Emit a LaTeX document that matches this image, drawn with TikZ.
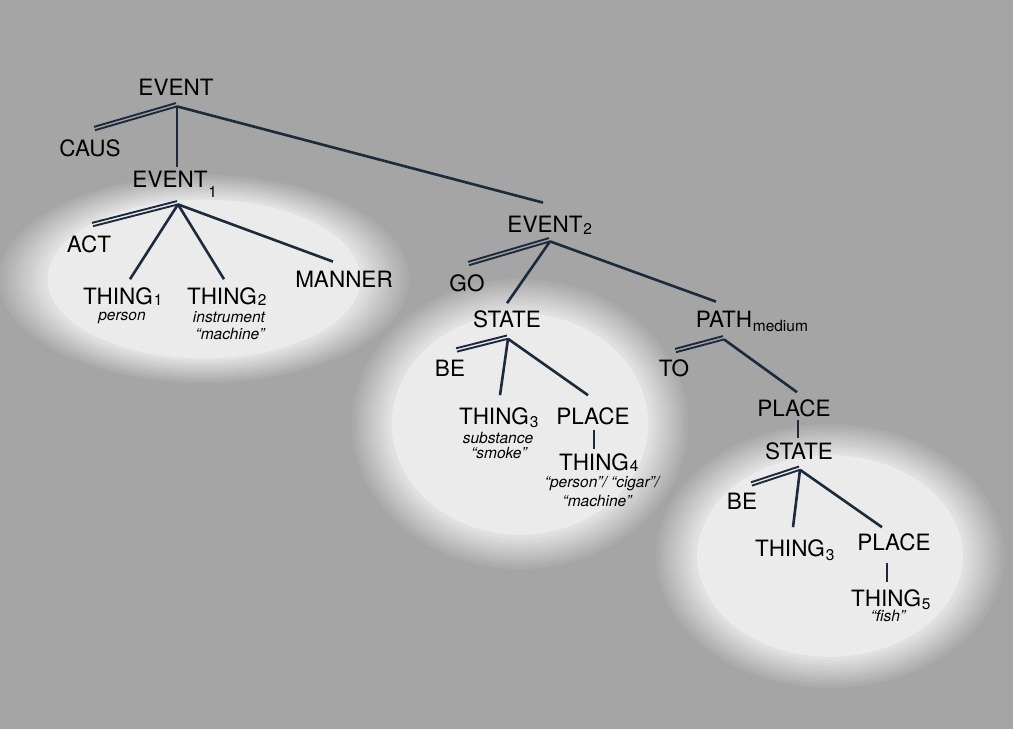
\documentclass[tikz,border=0pt]{standalone}
\usepackage{fontspec}
\setmainfont{TeX Gyre Heros}
\usetikzlibrary{calc}
\definecolor{bg}{RGB}{165,165,165}
\definecolor{glowc}{RGB}{235,235,235}
\definecolor{lnc}{RGB}{28,42,62}
\newcommand\sbs[2][2pt]{\rlap{\smash{\kern0.8pt\raisebox{-#1}{\fontsize{15.5}{16}\selectfont #2}}}}
\tikzset{
  lab/.style={inner sep=0pt, font=\fontsize{22.5}{27}\selectfont, text=black},
  ann/.style={inner sep=0pt, font=\fontsize{15.5}{18}\selectfont\itshape, text=black},
  br/.style={draw=lnc, line width=2.6pt},
  dl/.style={draw=lnc, line width=1.9pt},
  glowlayer/.style={fill=glowc, fill opacity=0.09}
}
\newcommand\dbl[2]{\draw[dl] (#1) -- (#2); \draw[dl, transform canvas={shift={(-1pt,3.3pt)}}] (#1) -- (#2);}
% soft glow: centre x, centre y, x radius, y radius
\newcommand\glowell[4]{%
  \foreach \m in {0,...,46}{%
    \pgfmathsetmacro\s{1-0.24*(1-0.91^\m)}%
    \fill[glowlayer] (#1,#2) ellipse [x radius={\s*#3pt}, y radius={\s*#4pt}];
  }%
  \fill[glowc] (#1,#2) ellipse [x radius={0.764*#3pt}, y radius={0.764*#4pt}];
}
\begin{document}
\begin{tikzpicture}[x=1pt,y=-1pt]
\fill[bg] (0,0) rectangle (1013,729);
\useasboundingbox (0,0) rectangle (1013,729);
% glows
\glowell{204}{279}{205}{104}
\glowell{520}{424}{168}{145}
\glowell{830}{556}{174}{132}
% tree 1
\node[lab] (e0) at (176,87) {EVENT};
\node[lab] (caus) at (90,148) {CAUS};
\node[lab] (ev1) at (170,179) {EVENT\sbs[10.5pt]{1}};
\node[lab] (act) at (89,244) {ACT};
\node[lab] (t1) at (118,296) {THING\sbs[1pt]{1}};
\node[lab] (t2) at (222,296) {THING\sbs[1pt]{2}};
\node[lab] (man) at (344,279) {MANNER};
\node[ann] (pers) at (122,318) {person};
\node[ann] (instr) at (229,317) {instrument};
\node[ann] (mach1) at (230,334) {“machine”};
% tree 2
\node[lab] (ev2) at (545,224) {EVENT\sbs[2.5pt]{2}};
\node[lab] (go) at (467,283) {GO};
\node[lab] (st1) at (507,319) {STATE};
\node[lab] (path) at (724,319) {PATH\sbs[4pt]{medium}};
\node[lab] (be1) at (450,368) {BE};
\node[lab] (th3) at (494,416) {THING\sbs[3pt]{3}};
\node[lab] (pl1) at (593,416) {PLACE};
\node[ann] (subst) at (498,438) {substance};
\node[ann] (smoke) at (499,453) {“smoke”};
\node[lab] (th4) at (594,462) {THING\sbs[1.5pt]{4}};
\node[ann] (pcm) at (602,484) {“person”/ “cigar”/};
\node[ann] (mach2) at (597,501) {“machine”};
% tree 3
\node[lab] (to) at (674,368) {TO};
\node[lab] (pl2) at (794,408) {PLACE};
\node[lab] (st2) at (799,451) {STATE};
\node[lab] (be2) at (742,501) {BE};
\node[lab] (th3b) at (790,548) {THING\sbs[4pt]{3}};
\node[lab] (pl3) at (894,542) {PLACE};
\node[lab] (th5) at (886,598) {THING\sbs[3pt]{5}};
\node[ann] (fish) at (888,616) {“fish”};
% apex points
\coordinate (a0) at ($(e0.south)+(1,11)$);
\coordinate (a1) at ($(ev1.south)+(8,17)$);
\coordinate (a2) at ($(ev2.south)+(5,9)$);
\coordinate (a3) at ($(st1.south)+(1,11)$);
\coordinate (a4) at ($(path.south)+(0,12)$);
\coordinate (a5) at ($(st2.south)+(1,10)$);
% connectors tree 1
\dbl{a0}{$(caus.north)+(5,-9)$}
\draw[br] (a0) -- ($(ev1.north)+(7,-4)$);
\draw[br] (a0) -- ($(ev2.north)+(-2,-13)$);
\dbl{a1}{$(act.north)+(4,-9)$}
\draw[br] (a1) -- ($(t1.north)+(12,-8)$);
\draw[br] (a1) -- ($(t2.north)+(2,-8)$);
\draw[br] (a1) -- ($(man.north)+(-11,-9)$);
% tree 2
\dbl{a2}{$(go.north)+(2,-9)$}
\draw[br] (a2) -- ($(st1.north)+(0,-7)$);
\draw[br] (a2) -- ($(path.north)+(-8,-9)$);
\dbl{a3}{$(be1.north)+(7,-8)$}
\draw[br] (a3) -- ($(th3.north)+(6,-12)$);
\draw[br] (a3) -- ($(pl1.north)+(-5,-12)$);
\draw[br] ($(pl1.south)+(1,5)$) -- ($(th4.north)+(0,-4)$);
% tree 3
\dbl{a4}{$(to.north)+(2,-7)$}
\draw[br] (a4) -- ($(pl2.north)+(3,-7)$);
\draw[br] ($(pl2.south)+(4,3)$) -- ($(st2.north)+(-1,-4)$);
\dbl{a5}{$(be2.north)+(10,-7)$}
\draw[br] (a5) -- ($(th3b.north)+(3,-12)$);
\draw[br] (a5) -- ($(pl3.north)+(-12,-6)$);
\draw[br] ($(pl3.south)+(-7,12)$) -- ($(th5.north)+(1,-7)$);
\end{tikzpicture}
\end{document}
